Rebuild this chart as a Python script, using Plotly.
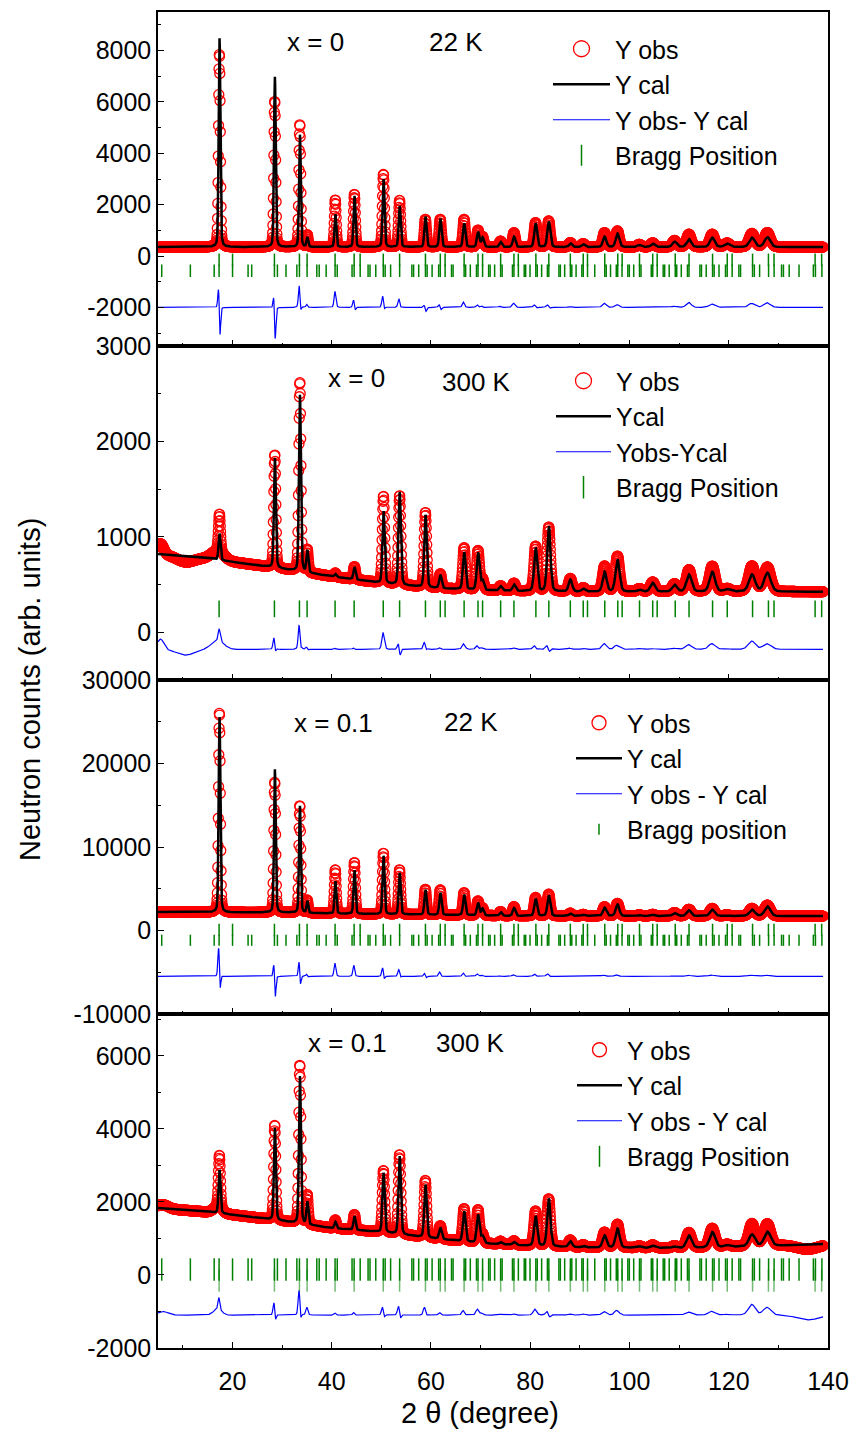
import numpy as np
import plotly.graph_objects as go

# ------------------------------------------------------------------ measurement grid (2θ, degrees)
two_theta = np.round(np.arange(5.0, 139.0 + 1e-9, 0.05), 2)

# ------------------------------------------------------------------ reflections carrying intensity
peak_pos = [17.40, 28.55, 33.60, 35.10, 40.75, 44.60, 50.45, 53.70, 58.90, 61.90,
            66.70, 69.50, 70.40, 74.05, 76.75, 81.10, 83.75, 88.10, 90.70, 95.00,
            97.60, 102.00, 104.70, 109.10, 112.00, 116.70, 119.70, 124.70, 127.80]
peak_fwhm = [0.40, 0.40, 0.40, 0.40, 0.42, 0.44, 0.46, 0.48, 0.50, 0.52,
             0.55, 0.57, 0.58, 0.60, 0.62, 0.65, 0.68, 0.72, 0.75, 0.80,
             0.84, 0.90, 0.94, 1.00, 1.05, 1.12, 1.18, 1.28, 1.35]

# ------------------------------------------------------------------ x = 0, 22 K
x0_22K_cal = [8125, 6630, 4370, 370, 1275, 1990, 2640, 1600, 1185, 1105,
              925, 585, 370, 195, 405, 925, 990, 145, 106, 405,
              523, 80, 133, 210, 300, 365, 133, 365, 380]
x0_22K_obs = [7540, 5700, 4785, 460, 1835, 2055, 2835, 1820, 1080, 1080,
              1080, 650, 400, 230, 560, 950, 1015, 170, 130, 560,
              625, 100, 160, 250, 495, 495, 150, 520, 560]
x0_22K_bg_tt = [5, 40, 80, 139]
x0_22K_bg = [350, 350, 350, 350]

# ------------------------------------------------------------------ x = 0, 300 K
x0_300K_cal = [276, 1150, 1850, 230, 30, 130, 755, 970, 760, 140,
               390, 390, 100, 45, 65, 454, 682, 125, 30, 207,
               336, 20, 92, 70, 179, 207, 25, 179, 197]
x0_300K_obs = [395, 1186, 1988, 235, 40, 135, 912, 934, 785, 150,
               436, 410, 110, 50, 80, 470, 672, 135, 40, 266,
               371, 30, 100, 80, 228, 266, 30, 266, 255]
x0_300K_bg_tt = [5, 10, 17, 28, 40, 50, 60, 70, 80, 90, 139]
x0_300K_bg = [820, 800, 760, 680, 585, 515, 465, 440, 430, 425, 425]
x0_300K_bump_tt = [5.5, 10.5, 17.0]
x0_300K_bump = [110, -60, 90]
x0_300K_bump_w = [1.5, 4.0, 3.0]

# ------------------------------------------------------------------ x = 0.1, 22 K
x01_22K_cal = [23390, 17140, 12800, 1400, 3870, 5210, 7000, 4965, 3000, 2640,
               2470, 1500, 800, 450, 950, 2045, 2450, 280, 150, 985,
               1375, 100, 150, 350, 680, 760, 100, 760, 1160]
x01_22K_obs = [23990, 15670, 12900, 1500, 5250, 6160, 7320, 5355, 3050, 3000,
               2700, 1710, 900, 500, 1100, 2200, 2600, 320, 170, 1100,
               1500, 120, 180, 400, 800, 900, 120, 900, 1300]
x01_22K_bg_tt = [5, 30, 40, 50, 65, 75, 139]
x01_22K_bg = [2200, 2150, 2030, 1950, 1840, 1750, 1720]

# ------------------------------------------------------------------ x = 0.1, 300 K
x01_300K_cal = [1190, 2525, 4037, 620, 180, 376, 1628, 2137, 1446, 310,
                829, 771, 200, 60, 80, 816, 1310, 160, 40, 330,
                520, 40, 60, 40, 340, 420, 50, 330, 390]
x01_300K_obs = [1450, 2600, 4350, 800, 230, 420, 1690, 2180, 1560, 360,
                900, 900, 240, 80, 110, 950, 1300, 190, 70, 420,
                640, 50, 80, 60, 420, 520, 70, 620, 600]
x01_300K_bg_tt = [5, 17, 28, 40, 50, 60, 70, 80, 90, 110, 125, 139]
x01_300K_bg = [1835, 1700, 1515, 1285, 1175, 1010, 870, 800, 755, 735, 780, 850]
x01_300K_bump_tt = [6.0, 17.0, 136.0]
x01_300K_bump = [100, 150, -130]
x01_300K_bump_w = [2.5, 2.0, 5.0]

# ------------------------------------------------------------------ Bragg reflections (2θ)
bragg_fcc = [17.31, 20.02, 28.46, 33.50, 35.04, 40.68, 44.52, 45.73, 50.39, 53.68,
             58.89, 61.88, 62.85, 66.68, 69.48, 70.40, 74.04, 76.72, 77.60, 81.14,
             83.75, 88.08, 90.68, 91.54, 95.02, 97.64, 98.52, 102.02, 104.68, 105.58,
             109.22, 112.00, 116.74, 119.70, 120.68, 124.80, 128.00, 129.12, 137.40, 138.72]
bragg_fd3m = [17.31, 28.46, 33.50, 35.04, 40.68, 44.52, 50.39, 53.68, 58.89, 61.88,
              62.85, 66.68, 69.48, 70.40, 74.04, 76.72, 81.14, 83.75, 88.08, 90.68,
              91.54, 95.02, 97.64, 98.52, 102.02, 104.68, 105.58, 109.22, 112.00, 116.74,
              119.70, 124.80, 128.00, 129.12, 137.40, 138.72]
bragg_mag = [5.75, 11.52, 16.32, 17.31, 20.02, 23.15, 23.88, 28.46, 29.06, 30.79,
             32.98, 33.50, 35.04, 37.00, 37.48, 38.88, 40.68, 41.12, 44.10, 44.52,
             45.74, 47.33, 47.72, 48.88, 50.39, 50.77, 51.87, 53.69, 56.15, 56.50,
             57.53, 58.89, 59.23, 60.23, 61.55, 61.88, 62.85, 64.14, 64.46, 66.68,
             66.99, 67.93, 69.17, 69.48, 70.40, 71.62, 71.92, 72.83, 74.04, 74.34,
             76.42, 76.72, 77.61, 78.79, 79.08, 79.96, 81.13, 81.42, 82.30, 83.46,
             83.75, 85.78, 86.07, 86.94, 88.09, 88.38, 89.24, 90.40, 90.68, 91.55,
             93.00, 95.02, 95.31, 96.18, 97.34, 97.63, 98.50, 99.67, 99.97, 100.85,
             102.02, 102.32, 104.39, 104.69, 105.59, 106.79, 107.09, 108.00, 109.22, 109.52,
             110.44, 111.68, 111.99, 114.19, 114.50, 115.46, 116.74, 117.06, 118.04, 119.35,
             119.69, 120.69, 122.04, 122.38, 124.80, 125.16, 126.22, 128.03, 129.14, 130.64,
             131.02, 132.18, 134.16, 137.05, 137.47, 138.77]

# ------------------------------------------------------------------ axis tick labels
x_tick_vals = [20, 40, 60, 80, 100, 120, 140]
y_tick_vals = [
    [-2000, 0, 2000, 4000, 6000, 8000],
    [0, 1000, 2000, 3000],
    [-10000, 0, 10000, 20000, 30000],
    [-2000, 0, 2000, 4000, 6000],
]
y_tick_text = [
    ["-2000", "0", "2000", "4000", "6000", "8000"],
    ["0", "1000", "2000", "3000"],
    ["-10000", "0", "10000", "20000", "30000"],
    ["-2000", "0", "2000", "4000", "6000"],
]

# ------------------------------------------------------------------ text
panel_labels = [("x = 0", "22 K"), ("x = 0", "300 K"), ("x = 0.1", "22 K"), ("x = 0.1", "300 K")]
legend_names = [
    ["Y obs", "Y cal", "Y obs- Y cal", "Bragg Position"],
    ["Y obs", "Ycal", "Yobs-Ycal", "Bragg Position"],
    ["Y obs", "Y cal", "Y obs - Y cal", "Bragg position"],
    ["Y obs", "Y cal", "Y obs - Y cal", "Bragg Position"],
]


def pseudo_voigt(x, pos, fwhm, eta=0.25):
    d = (x - pos) / fwhm
    return eta / (1.0 + 4.0 * d * d) + (1.0 - eta) * np.exp(-4.0 * np.log(2.0) * d * d)


def profile(heights, bg_tt, bg_vals, wscale, shift=0.0, wfac=1.0,
            bump_tt=(), bump=(), bump_w=()):
    y = np.interp(two_theta, bg_tt, bg_vals)  # background points joined linearly
    for p, w, h in zip(peak_pos, peak_fwhm, heights):
        y = y + h * pseudo_voigt(two_theta, p + shift, w * wscale * wfac)
    for p, a, w in zip(bump_tt, bump, bump_w):
        y = y + a * pseudo_voigt(two_theta, p, w, eta=0.0)
    return y


datasets = [
    dict(cal=x0_22K_cal, obs=x0_22K_obs, bg_tt=x0_22K_bg_tt, bg=x0_22K_bg),
    dict(cal=x0_300K_cal, obs=x0_300K_obs, bg_tt=x0_300K_bg_tt, bg=x0_300K_bg,
         bump_tt=x0_300K_bump_tt, bump=x0_300K_bump, bump_w=x0_300K_bump_w),
    dict(cal=x01_22K_cal, obs=x01_22K_obs, bg_tt=x01_22K_bg_tt, bg=x01_22K_bg),
    dict(cal=x01_300K_cal, obs=x01_300K_obs, bg_tt=x01_300K_bg_tt, bg=x01_300K_bg,
         bump_tt=x01_300K_bump_tt, bump=x01_300K_bump, bump_w=x01_300K_bump_w),
]

GREEN = "#008000"
LIGHT_GREEN = "rgba(0,128,0,0.55)"

# per-panel drawing setup: width scale, obs shift, diff offset, Bragg rows, axis range
panel_style = [
    dict(wscale=1.0, shift=-0.03, diff_offset=-2000, yrange=[-3500, 9500], minor=1000,
         rows=[(bragg_fcc, -148, 9, GREEN), (bragg_mag, -571, 9, GREEN)],
         leg_x=548, leg_y=26, itemwidth=57, leg_marker=16, leg_tick=15),
    dict(wscale=1.15, shift=-0.02, diff_offset=-180, yrange=[-500, 3000], minor=500,
         rows=[(bragg_fd3m, 246, 12, GREEN)],
         leg_x=551, leg_y=358, itemwidth=55, leg_marker=16, leg_tick=16),
    dict(wscale=1.0, shift=-0.03, diff_offset=-5500, yrange=[-10000, 30000], minor=5000,
         rows=[(bragg_fcc, 60, 9, GREEN), (bragg_mag, -1170, 8, GREEN)],
         leg_x=571, leg_y=700, itemwidth=46, leg_marker=14, leg_tick=8),
    dict(wscale=1.15, shift=-0.03, diff_offset=-1100, yrange=[-2000, 7150], minor=1000,
         rows=[(bragg_mag, 150, 16, GREEN), (bragg_fd3m, -150, 16, LIGHT_GREEN)],
         leg_x=572, leg_y=1027, itemwidth=45, leg_marker=14, leg_tick=15),
]

label_pos = [((315, 42), (456, 42)), ((356, 378), (476, 382)),
             ((333, 723), (471, 722)), ((347, 1043), (470, 1043))]

W, H = 858, 1433
ML, MR, MT, MB = 158, 30, 12, 85
PW, PH = W - ML - MR, H - MT - MB
FONT = "Liberation Sans, Arial, Helvetica, sans-serif"


def px_x(px):
    return (px - ML) / PW


def px_y(py):
    return (H - MB - py) / PH


fig = go.Figure()
layout = {}
annotations = []

for i, (data, st) in enumerate(zip(datasets, panel_style), start=1):
    xa = "x" if i == 1 else f"x{i}"
    ya = "y" if i == 1 else f"y{i}"
    lg = "legend" if i == 1 else f"legend{i}"
    names = legend_names[i - 1]

    ycal = profile(data["cal"], data["bg_tt"], data["bg"], st["wscale"])
    yobs = profile(data["obs"], data["bg_tt"], data["bg"], st["wscale"], shift=st["shift"], wfac=1.05,
                   bump_tt=data.get("bump_tt", ()), bump=data.get("bump", ()), bump_w=data.get("bump_w", ()))
    ydiff = yobs - ycal + st["diff_offset"]

    common = dict(xaxis=xa, yaxis=ya, legend=lg, hoverinfo="skip")
    fig.add_trace(go.Scatter(x=two_theta, y=yobs, mode="markers", showlegend=False,
                             marker=dict(symbol="circle-open", size=10, color="#ff0000",
                                         line=dict(width=1.3)), **common))
    fig.add_trace(go.Scatter(x=[None], y=[None], mode="markers", name=names[0], legendrank=1,
                             marker=dict(symbol="circle-open", size=st["leg_marker"], color="#ff0000",
                                         line=dict(width=1.3)), **common))
    fig.add_trace(go.Scatter(x=two_theta, y=ycal, mode="lines", name=names[1], legendrank=2,
                             line=dict(color="black", width=2.5), **common))
    fig.add_trace(go.Scatter(x=two_theta, y=ydiff, mode="lines", name=names[2], legendrank=3,
                             line=dict(color="#0000ff", width=1.2), **common))
    for pos, yrow, size, col in st["rows"]:
        fig.add_trace(go.Scatter(x=pos, y=[yrow] * len(pos), mode="markers", showlegend=False,
                                 marker=dict(symbol="line-ns-open", size=size, color=col,
                                             line=dict(width=1.5, color=col)), **common))
    fig.add_trace(go.Scatter(x=[None], y=[None], mode="markers", name=names[3], legendrank=4,
                             marker=dict(symbol="line-ns-open", size=st["leg_tick"], color=GREEN,
                                         line=dict(width=1.5, color=GREEN)), **common))

    d0 = (4 - i) * 0.25
    axis_common = dict(showline=True, linecolor="black", linewidth=1.5, mirror=True,
                       ticks="inside", ticklen=6, tickwidth=1.3, tickcolor="black",
                       showgrid=False, zeroline=False,
                       tickfont=dict(family=FONT, size=25, color="black"))
    layout["xaxis" if i == 1 else f"xaxis{i}"] = dict(
        axis_common, domain=[0, 1], range=[5, 140], anchor=ya,
        tickmode="array", tickvals=x_tick_vals, ticklabelstandoff=10,
        showticklabels=(i == 4), matches=None if i == 1 else "x",
        minor=dict(ticks="inside", ticklen=3.5, tickwidth=1.2, tickcolor="black", dtick=10, tick0=0))
    layout["yaxis" if i == 1 else f"yaxis{i}"] = dict(
        axis_common, domain=[d0, d0 + 0.25], range=st["yrange"], anchor=xa,
        tickmode="array", tickvals=y_tick_vals[i - 1], ticktext=y_tick_text[i - 1],
        minor=dict(ticks="inside", ticklen=3.5, tickwidth=1.2, tickcolor="black",
                   dtick=st["minor"], tick0=0))
    layout[lg] = dict(x=px_x(st["leg_x"]), y=px_y(st["leg_y"]), xanchor="left", yanchor="top",
                      bgcolor="rgba(0,0,0,0)", borderwidth=0, itemwidth=st["itemwidth"],
                      tracegroupgap=0, font=dict(family=FONT, size=25, color="black"))

    (cx, cy), (tx, ty) = label_pos[i - 1]
    comp, temp = panel_labels[i - 1]
    for text, (ax_, ay_) in ((comp, (cx, cy)), (temp, (tx, ty))):
        annotations.append(dict(text=text, x=px_x(ax_), y=px_y(ay_), xref="paper", yref="paper",
                                xanchor="center", yanchor="middle", showarrow=False,
                                font=dict(family=FONT, size=26, color="black")))

annotations.append(dict(text="Neutron counts (arb. units)", x=px_x(30), y=px_y(690),
                        xref="paper", yref="paper", xanchor="center", yanchor="middle",
                        textangle=-90, showarrow=False,
                        font=dict(family=FONT, size=29, color="black")))
annotations.append(dict(text="2 θ (degree)", x=px_x(480), y=px_y(1413),
                        xref="paper", yref="paper", xanchor="center", yanchor="middle",
                        showarrow=False, font=dict(family=FONT, size=29, color="black")))

fig.update_layout(
    width=W, height=H,
    margin=dict(l=ML, r=MR, t=MT, b=MB, autoexpand=False),
    paper_bgcolor="white", plot_bgcolor="white",
    font=dict(family=FONT, size=25, color="black"),
    showlegend=True, annotations=annotations, **layout)

fig.write_html("out.html")
